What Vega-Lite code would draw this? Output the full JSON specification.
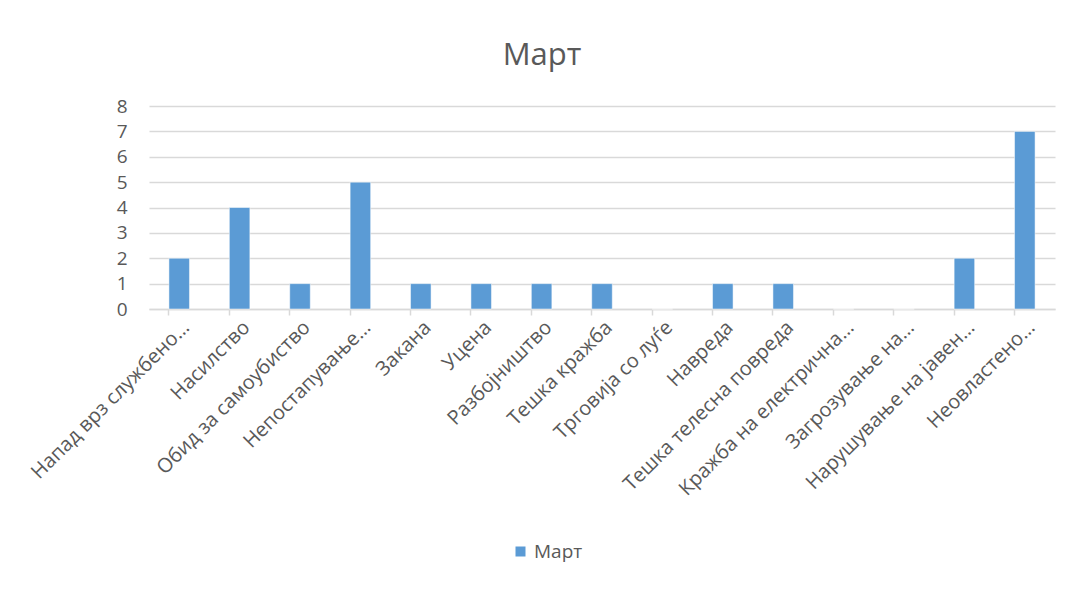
{
  "$schema": "https://vega.github.io/schema/vega-lite/v6.json",
  "width": 906,
  "height": 203,
  "autosize": {"type": "none"},
  "padding": {"left": 149, "top": 106, "right": 14, "bottom": 281},
  "background": "white",
  "title": {
    "text": "Март",
    "font": "Open Sans",
    "fontSize": 31,
    "fontWeight": "normal",
    "color": "#595959",
    "offset": 25,
    "dx": -60
  },
  "data": {
    "values": [
      {"cat": "Напад врз службено…", "count": 2, "month": "Март"},
      {"cat": "Насилство", "count": 4, "month": "Март"},
      {"cat": "Обид за самоубиство", "count": 1, "month": "Март"},
      {"cat": "Непостапување…", "count": 5, "month": "Март"},
      {"cat": "Закана", "count": 1, "month": "Март"},
      {"cat": "Уцена", "count": 1, "month": "Март"},
      {"cat": "Разбојништво", "count": 1, "month": "Март"},
      {"cat": "Тешка кражба", "count": 1, "month": "Март"},
      {"cat": "Трговија со луѓе", "count": 0, "month": "Март"},
      {"cat": "Навреда", "count": 1, "month": "Март"},
      {"cat": "Тешка телесна повреда", "count": 1, "month": "Март"},
      {"cat": "Кражба на електрична…", "count": 0, "month": "Март"},
      {"cat": "Загрозување на…", "count": 0, "month": "Март"},
      {"cat": "Нарушување на јавен…", "count": 2, "month": "Март"},
      {"cat": "Неовластено…", "count": 7, "month": "Март"}
    ]
  },
  "config": {
    "view": {"stroke": null},
    "font": "Open Sans"
  },
  "resolve": {"axis": {"x": "independent"}},
  "layer": [
    {
      "mark": {"type": "bar", "color": "#5b9bd5", "stroke": "white", "strokeWidth": 0.5},
      "encoding": {
        "x": {
          "field": "cat",
          "type": "nominal",
          "sort": null,
          "scale": {"paddingInner": 0.66, "paddingOuter": 0.33},
          "axis": {
            "title": null,
            "labelAngle": -45,
            "labelFont": "Open Sans",
            "labelFontSize": 20,
            "labelColor": "#595959",
            "labelLimit": 0,
            "labelOverlap": false,
            "labelPadding": 8,
            "ticks": false,
            "domain": true,
            "domainColor": "#d9d9d9",
            "domainWidth": 1.5,
            "grid": false
          }
        },
        "y": {
          "field": "count",
          "type": "quantitative",
          "scale": {"domain": [0, 8], "nice": false},
          "axis": {
            "title": null,
            "values": [0, 1, 2, 3, 4, 5, 6, 7, 8],
            "labelOverlap": false,
            "labelFont": "Open Sans",
            "labelFontSize": 19,
            "labelColor": "#595959",
            "labelPadding": 22,
            "ticks": false,
            "domain": false,
            "grid": true,
            "gridColor": "#d9d9d9",
            "gridWidth": 1.5
          }
        },
        "color": {
          "field": "month",
          "type": "nominal",
          "scale": {"range": ["#5b9bd5"]},
          "legend": {
            "title": null,
            "orient": "none",
            "legendX": 362,
            "legendY": 436,
            "direction": "horizontal",
            "symbolType": "square",
            "symbolSize": 100,
            "symbolStrokeWidth": 0,
            "labelFont": "Open Sans",
            "labelFontSize": 19,
            "labelColor": "#595959"
          }
        }
      }
    },
    {
      "mark": {"type": "bar", "opacity": 0},
      "encoding": {
        "x": {
          "field": "cat",
          "type": "nominal",
          "sort": null,
          "axis": {
            "orient": "bottom",
            "title": null,
            "labels": false,
            "domain": false,
            "grid": false,
            "ticks": true,
            "bandPosition": 0,
            "tickColor": "#d9d9d9",
            "tickWidth": 1.5,
            "tickSize": 6
          }
        }
      }
    }
  ]
}
